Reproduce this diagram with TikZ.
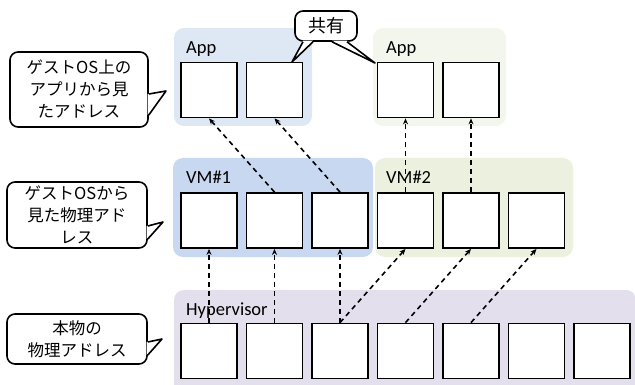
\documentclass[tikz,border=0pt]{standalone}
\usepackage{fontspec}
\setmainfont{Carlito}
\newfontfamily\jpfont{Noto Sans CJK JP}
\usetikzlibrary{calc,arrows.meta}
\definecolor{appblue}{HTML}{DEE7F4}
\definecolor{appgreen}{HTML}{F3F6EC}
\definecolor{vmblue}{HTML}{C7D8F0}
\definecolor{vmgreen}{HTML}{EBF0DF}
\definecolor{hvpurple}{HTML}{E4DFEC}
\begin{document}
\begin{tikzpicture}[x=1pt,y=-1pt,
        cell/.style={draw,line width=1.8pt,fill=white,minimum width=56pt,minimum height=55pt,inner sep=0pt},
        region/.style={rounded corners=10pt},
        map/.style={line width=1.6pt,dash pattern=on 5pt off 4pt,-{Stealth[length=6pt,width=5pt]}},
        balloon/.style={draw,line width=1.6pt,rounded corners=8pt,fill=white,align=center,inner sep=0pt,font=\jpfont\fontsize{16.5}{22}\selectfont},
        tail/.style={line width=1.6pt,line join=round},
        layer/.style={anchor=base west,inner sep=0pt,font=\fontsize{18.5}{22}\selectfont}]
        \useasboundingbox (0,0) rectangle (635,385);
        \clip (0,0) rectangle (635,385);
        % backgrounds
        \fill[region,fill=appblue] (174,28) rectangle (312,126);
        \fill[region,fill=appgreen] (373,28) rectangle (506,126);
        \fill[region,fill=vmblue] (173,158) rectangle (373,257);
        \fill[region,fill=vmgreen] (375,158) rectangle (573,257);
        \fill[region,fill=hvpurple] (174,290) rectangle (636,400);
        \node[layer] (appl1) at (186,54) {App};
        \node[layer] (appl2) at (386,54) {App};
        \node[layer] (vml1) at (186,183) {VM\#1};
        \node[layer] (vml2) at (386,183) {VM\#2};
        \node[layer] (hvl) at (186,315) {Hypervisor};
        % address cells
        \foreach \i in {1,...,7} \node[cell] (h\i) at ({143.5+65.5*\i},351) {};
        \foreach \i in {1,...,6} \node[cell] (v\i) at ({143.5+65.5*\i},220.5) {};
        \foreach \i/\n in {1/a1,2/a2,4/b1,5/b2} \node[cell] (\n) at ({143.5+65.5*\i},90) {};
        \foreach \f/\t in {h1/v1,h2/v2,h3/v3,h3/v4,h4/v5,h5/v6,v2/a1,v3/a2,v4/b1,v5/b2}
            \draw[map] (\f.north) -- (\t.south);
        % balloons
        \node[balloon,minimum width=138pt,minimum height=75pt] (c1) at (79,89.5) {ゲストOS上の\\アプリから見\\たアドレス};
        \node[balloon,minimum width=140pt,minimum height=66pt] (c2) at (77,215) {ゲストOSから\\見た物理アド\\レス};
        \node[balloon,minimum width=140pt,minimum height=50pt] (c3) at (77,339) {本物の\\物理アドレス};
        \node[balloon,minimum width=62pt,minimum height=30pt,font=\jpfont\fontsize{18}{22}\selectfont] (c4) at (326,26) {共有};
        \coordinate (p1) at (166,91);
        \coordinate (p2) at (163,222);
        \coordinate (p3) at (162,339);
        \coordinate (p4) at (292,62);
        \coordinate (p5) at (375,63);
        \foreach \c/\p/\a/\b in {c1/p1/4.5/25.5,c2/p2/11/24,c3/p3/3/16} {
            \fill[white] ($(\c.east)+(-1.2,\a)$) -- (\p) -- ($(\c.east)+(-1.2,\b)$) -- cycle;
            \draw[tail] ($(\c.east)+(0,\a)$) -- (\p) -- ($(\c.east)+(0,\b)$);
        }
        \foreach \p/\a/\b in {p4/-23/-13,p5/6/21} {
            \fill[white] ($(c4.south)+(\a,-1.2)$) -- (\p) -- ($(c4.south)+(\b,-1.2)$) -- cycle;
            \draw[tail] ($(c4.south)+(\a,0)$) -- (\p) -- ($(c4.south)+(\b,0)$);
        }
    \end{tikzpicture}
\end{document}
